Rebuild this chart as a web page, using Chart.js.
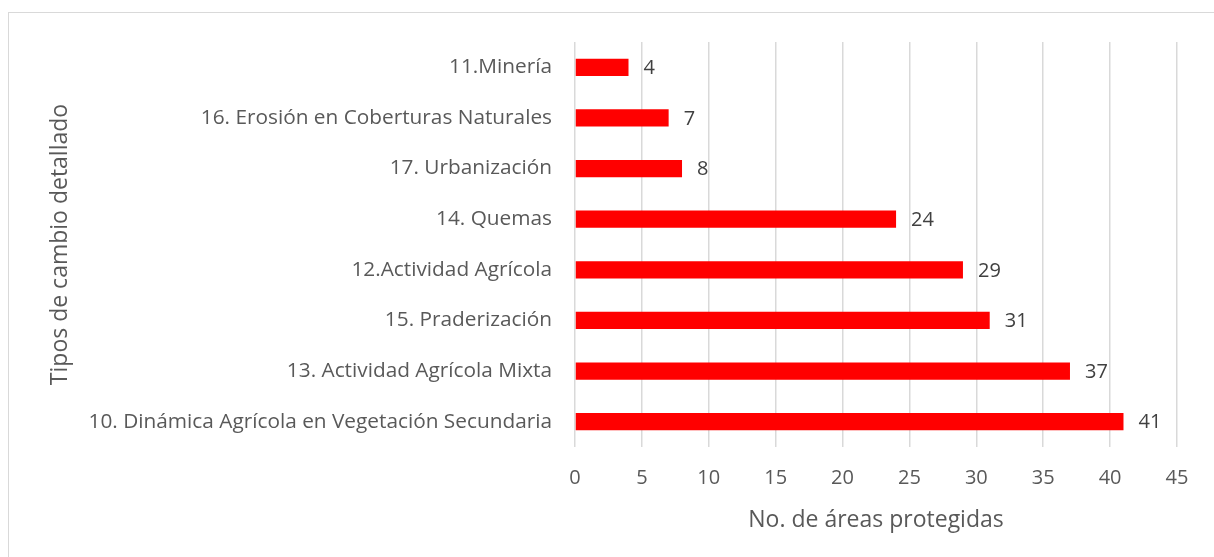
<!DOCTYPE html>
<html>
<head>
<meta charset="utf-8">
<script src="https://cdn.jsdelivr.net/npm/chart.js@4"></script>
<style>
  html, body { margin: 0; padding: 0; background: #fff; overflow: hidden; }
  #marco {
    position: absolute; left: 8px; top: 12px; width: 1300px; height: 700px;
    border: 1.5px solid #d9d9d9; box-sizing: border-box;
  }
  #grafico { position: absolute; left: 0; top: 0; }
</style>
</head>
<body>
<div id="marco"></div>
<canvas id="grafico" width="1214" height="557"></canvas>
<script>
// categorias de arriba hacia abajo
const tiposCambio = [
  '11.Minería',
  '16. Erosión en Coberturas Naturales',
  '17. Urbanización',
  '14. Quemas',
  '12.Actividad Agrícola',
  '15. Praderización',
  '13. Actividad Agrícola Mixta',
  '10. Dinámica Agrícola en Vegetación Secundaria'
];
const numAreas = [4, 7, 8, 24, 29, 31, 37, 41];
const ticksX = [0, 5, 10, 15, 20, 25, 30, 35, 40, 45];

const fuente = "'Open Sans', sans-serif";

// etiquetas de valor al final de cada barra
const etiquetasValor = {
  id: 'etiquetasValor',
  afterDatasetsDraw(chart) {
    const ctx = chart.ctx;
    const meta = chart.getDatasetMeta(0);
    ctx.save();
    ctx.font = '20px ' + fuente;
    ctx.fillStyle = '#404040';
    ctx.textAlign = 'left';
    ctx.textBaseline = 'middle';
    meta.data.forEach((barra, i) => {
      ctx.fillText(String(numAreas[i]), barra.x + 15, barra.y + 1);
    });
    ctx.restore();
  }
};

new Chart(document.getElementById('grafico').getContext('2d'), {
  type: 'bar',
  data: {
    labels: tiposCambio,
    datasets: [{
      label: 'No. de áreas protegidas',
      data: numAreas,
      backgroundColor: '#ff0000',
      borderWidth: 0,
      barPercentage: 0.34,
      categoryPercentage: 1
    }]
  },
  options: {
    indexAxis: 'y',
    responsive: false,
    animation: false,
    layout: { padding: { left: 0, top: 42, right: 37, bottom: 0 } },
    plugins: {
      legend: { display: false },
      tooltip: { enabled: false }
    },
    scales: {
      x: {
        min: 0,
        max: 45,
        afterBuildTicks: s => { s.ticks = ticksX.map(v => ({ value: v })); },
        afterFit: s => { s.height = 110; },
        grid: { color: '#d9d9d9', lineWidth: 1.5, drawTicks: false },
        border: { display: false },
        ticks: {
          padding: 19,
          color: '#595959',
          font: { family: fuente, size: 20 }
        },
        title: {
          display: true,
          text: 'No. de áreas protegidas',
          color: '#595959',
          font: { family: fuente, size: 23 },
          padding: { top: 0, bottom: 23 }
        }
      },
      y: {
        afterFit: s => { s.width = 575; },
        grid: { display: false, drawTicks: false },
        border: { display: false },
        ticks: {
          padding: 23,
          color: '#595959',
          font: { family: fuente, size: 20.8 }
        },
        title: {
          display: true,
          text: 'Tipos de cambio detallado',
          color: '#595959',
          font: { family: fuente, size: 23 },
          padding: { top: 47, bottom: 0 }
        }
      }
    }
  },
  plugins: [etiquetasValor]
});
</script>
</body>
</html>
